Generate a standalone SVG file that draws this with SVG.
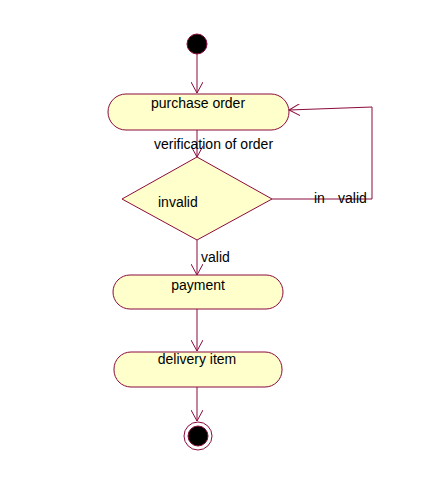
<svg xmlns="http://www.w3.org/2000/svg" width="434" height="491" viewBox="0 0 434 491">
<defs>
<marker id="arr" viewBox="0 0 12 12" refX="11" refY="6" markerWidth="12" markerHeight="12" markerUnits="userSpaceOnUse" orient="auto">
<path d="M0,0 L11,6 L0,12" fill="none" stroke="#8b0a3c" stroke-width="1"/>
</marker>
<style>
.n{fill:#ffffcc;stroke:#8b0a3c;stroke-width:1}
.c{fill:none;stroke:#8b0a3c;stroke-width:1}
.t{font-family:"Liberation Sans",Arial,sans-serif;font-size:14px;fill:#000}
</style>
</defs>
<rect width="434" height="491" fill="#fff"/>
<g id="connectors">
<line class="c" x1="197" y1="54" x2="197" y2="93" marker-end="url(#arr)"/>
<line class="c" x1="197" y1="130" x2="197" y2="157" marker-end="url(#arr)"/>
<polyline class="c" points="272,199 372,199 372,107 289,110" marker-end="url(#arr)"/>
<line class="c" x1="197" y1="240" x2="197" y2="275" marker-end="url(#arr)"/>
<line class="c" x1="197" y1="309" x2="197" y2="351" marker-end="url(#arr)"/>
<line class="c" x1="197" y1="387" x2="197" y2="421" marker-end="url(#arr)"/>
<text class="t" x="154" y="149">verification of order</text>
<text class="t" x="314" y="203">in</text>
<text class="t" x="338" y="203">valid</text>
<text class="t" x="201" y="262">valid</text>
</g>
<g id="start">
<circle cx="197" cy="44" r="10" fill="#000" stroke="#8b0a3c" stroke-width="1"/>
</g>
<g id="purchase">
<rect class="n" x="108" y="94" width="181" height="36" rx="18" ry="18"/>
<text class="t" x="198" y="108" text-anchor="middle">purchase order</text>
</g>
<g id="decision">
<polygon class="n" points="197,157 272,199 197,240 122,199"/>
<text class="t" x="158" y="207">invalid</text>
</g>
<g id="payment">
<rect class="n" x="113" y="275" width="170" height="34" rx="17" ry="17"/>
<text class="t" x="198" y="290" text-anchor="middle">payment</text>
</g>
<g id="delivery">
<rect class="n" x="114" y="352" width="168" height="35" rx="17" ry="17"/>
<text class="t" x="197" y="364" text-anchor="middle">delivery item</text>
</g>
<g id="end">
<circle cx="198" cy="436" r="14" fill="none" stroke="#8b0a3c" stroke-width="1"/>
<circle cx="198" cy="436" r="10" fill="#000" stroke="#8b0a3c" stroke-width="1"/>
</g>
</svg>
